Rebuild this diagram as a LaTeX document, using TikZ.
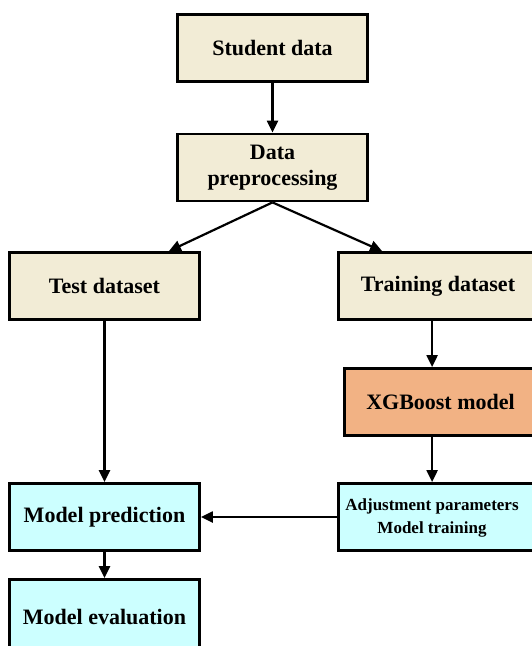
\documentclass[tikz,border=0pt]{standalone}
\usepackage{fontspec}
\setmainfont{Liberation Serif}
\usetikzlibrary{arrows.meta}
\definecolor{dataBeige}{RGB}{242,236,214}
\definecolor{modelOrange}{RGB}{242,178,132}
\definecolor{evalCyan}{RGB}{204,255,255}
\begin{document}
\begin{tikzpicture}[x=1pt, y=-1pt, every node/.style={font=\bfseries\fontsize{22}{26}\selectfont},
  stage/.style={draw,line width=2.8pt,minimum width=190pt,minimum height=67pt,align=center,inner sep=0pt},
  flow/.style={-{Triangle[length=12pt,width=11pt]},line width=2.2pt}]
\useasboundingbox (0,0) rectangle (532,646);
\clip (0,0) rectangle (532,646);
\node[stage,fill=dataBeige] (student) at (272.5,48) {Student data};
\node[stage,fill=dataBeige] (prep) at (272.5,167.5) {Data\\preprocessing};
\node[stage,fill=dataBeige] (test) at (104.5,286) {Test dataset};
\node[stage,fill=dataBeige,minimum width=199pt] (train) at (438,286) {Training dataset};
\node[stage,fill=modelOrange,minimum width=192pt] (xgb) at (440.5,402) {XGBoost model};
\node[stage,fill=evalCyan,minimum width=200pt,align=none,font=\bfseries\fontsize{17}{23}\selectfont] (adjust) at (438.5,517)
  {\begin{tabular}{@{}c@{}}Adjustment parameters\\Model training\end{tabular}\hspace*{13pt}};
\node[stage,fill=evalCyan] (predict) at (104.5,517) {Model prediction};
\node[stage,fill=evalCyan,minimum height=75pt] (evaluation) at (104.5,617) {Model evaluation};
% connectors
\draw[flow] ([xshift=95pt]train.south west) -- ([xshift=95pt]train.south west |- xgb.north);
\draw[flow] (student) -- (prep);
\draw[flow] (prep.south) -- ([xshift=-32pt]test.north east);
\draw[flow] (prep.south) -- ([xshift=45pt]train.north west);
\draw[flow] (test) -- (predict);
\draw[flow] ([xshift=95pt]adjust.north west |- xgb.south) -- ([xshift=95pt]adjust.north west);
\draw[flow] (adjust) -- (predict);
\draw[flow] (predict) -- (evaluation);
\end{tikzpicture}
\end{document}
